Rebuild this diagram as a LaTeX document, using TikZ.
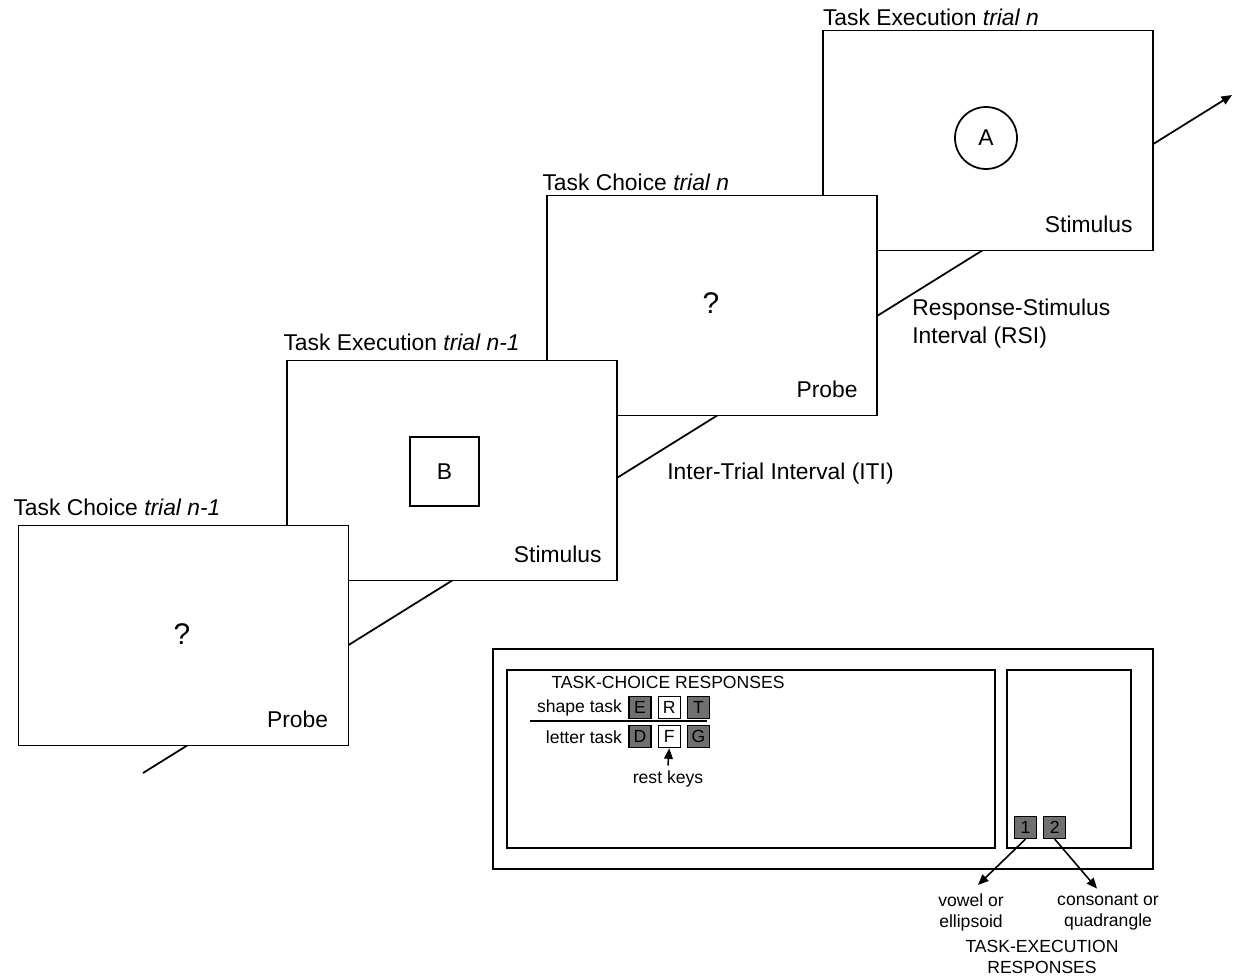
\documentclass[tikz,border=0pt]{standalone}
\usepackage{fontspec}
\setmainfont{Liberation Sans}
\usetikzlibrary{positioning,arrows.meta}
\definecolor{keygray}{RGB}{112,112,112}
\tikzset{screen/.style={draw=black, fill=white, rectangle, line width=1pt, minimum width=6.6cm, minimum height=4.4cm}}
\tikzset{panelbox/.style={draw=black, rectangle, line width=1pt}}
\tikzset{boxtitle/.style={anchor=base west, inner sep=0pt, font=\fontsize{13}{16}\selectfont}}
\tikzset{txt/.style={inner sep=0pt, font=\fontsize{13}{16}\selectfont}}
\tikzset{smalltxt/.style={inner sep=0pt, align=center, font=\fontsize{10}{12}\selectfont}}
\tikzset{keybox/.style={draw=black, fill=keygray, rectangle, minimum size=0.44cm, inner sep=0pt, line width=0.7pt, font=\fontsize{10}{12}\selectfont}}
\tikzset{arr/.style={-{Triangle[length=6pt,width=5pt]}, line width=0.9pt}}

\begin{document}
\begin{tikzpicture}[x=0.02cm, y=-0.02cm]
    \useasboundingbox (0,0) rectangle (1235,980);
    % time line behind the screens
    \coordinate (start) at (143,773);
    \coordinate (end) at (1232,95);
    \draw [arr, line width=1pt] (start) -- (end);
    % screens, last one first
    \node[screen] at (988,140.5) (exec2) {};
    \node[screen] at (712,305.5) (choice2) {};
    \node[screen] at (452,470.5) (exec1) {};
    \node[screen] at (183.5,635.5) (choice1) {};
    \node[boxtitle] at ([xshift=-0.09cm, yshift=0.19cm]choice1.north west) {Task Choice \textit{trial n-1}};
    \node[boxtitle] at ([xshift=-0.06cm, yshift=0.19cm]exec1.north west) {Task Execution \textit{trial n-1}};
    \node[boxtitle] at ([xshift=-0.08cm, yshift=0.08cm]choice2.north west) {Task Choice \textit{trial n}};
    \node[boxtitle] at ([xshift=0.01cm, yshift=0.08cm]exec2.north west) {Task Execution \textit{trial n}};
    \node[txt, font=\fontsize{17}{20}\selectfont] at (182,634) (probe1) {?};
    \node[txt, font=\fontsize{17}{20}\selectfont] at (711,303) (probe2) {?};
    \node[txt, draw, line width=1pt, minimum size=1.38cm] at (444.5,471.5) (stimB) {B};
    \node[txt, draw, circle, line width=1pt, minimum size=1.24cm] at (986,138) (stimA) {A};
    \node[txt, anchor=base east] at ([xshift=-0.42cm, yshift=0.38cm]choice1.south east) {Probe};
    \node[txt, anchor=base east] at ([xshift=-0.32cm, yshift=0.38cm]exec1.south east) {Stimulus};
    \node[txt, anchor=base east] at ([xshift=-0.4cm, yshift=0.38cm]choice2.south east) {Probe};
    \node[txt, anchor=base east] at ([xshift=-0.42cm, yshift=0.38cm]exec2.south east) {Stimulus};
    \node[txt, anchor=base west] at (667,479) (iti) {Inter-Trial Interval (ITI)};
    \node[txt, anchor=west, align=left] at (912,324) (rsi) {Response-Stimulus\\Interval (RSI)};
    % response keys
    \node[panelbox, minimum width=13.2cm, minimum height=4.4cm] at (823,759) (panel) {};
    \node[panelbox, minimum width=9.76cm, minimum height=3.56cm] at (751,759) (choicekeys) {};
    \node[panelbox, minimum width=2.48cm, minimum height=3.56cm] at (1069,759) (execkeys) {};
    \node[smalltxt] at (668,682) (choicehead) {TASK-CHOICE RESPONSES};
    \node[keybox] at (640,707.5) (E) {E};
    \node[keybox, fill=white, right=0.12cm of E] (R) {R};
    \node[keybox, right=0.12cm of R] (T) {T};
    \node[keybox, below=0.12cm of E] (D) {D};
    \node[keybox, fill=white, right=0.12cm of D] (F) {F};
    \node[keybox, right=0.12cm of F] (G) {G};
    \node[smalltxt, left=0.12cm of E] (shape) {shape task};
    \node[smalltxt, left=0.12cm of D] (letter) {letter task};
    \draw[line width=0.8pt] (530,721) -- (707,721);
    \node[smalltxt] at (668,779) (rest) {rest keys};
    \draw[arr] ([yshift=0.1cm]rest.north) -- (F.south);
    \node[keybox] at (1025.5,827.5) (k1) {1};
    \node[keybox, right=0.12cm of k1] (k2) {2};
    \node[smalltxt] at (971,912) (vowel) {vowel or\\ellipsoid};
    \node[smalltxt] at (1108,912) (conson) {consonant or\\quadrangle};
    \node[smalltxt] at (1042,957) (exechead) {TASK-EXECUTION\\RESPONSES};
    \draw[arr] (k1.south) -- ([xshift=0.14cm, yshift=0.16cm]vowel.north);
    \draw[arr] (k2.south) -- ([xshift=-0.22cm, yshift=0.1cm]conson.north);
\end{tikzpicture}
\end{document}
